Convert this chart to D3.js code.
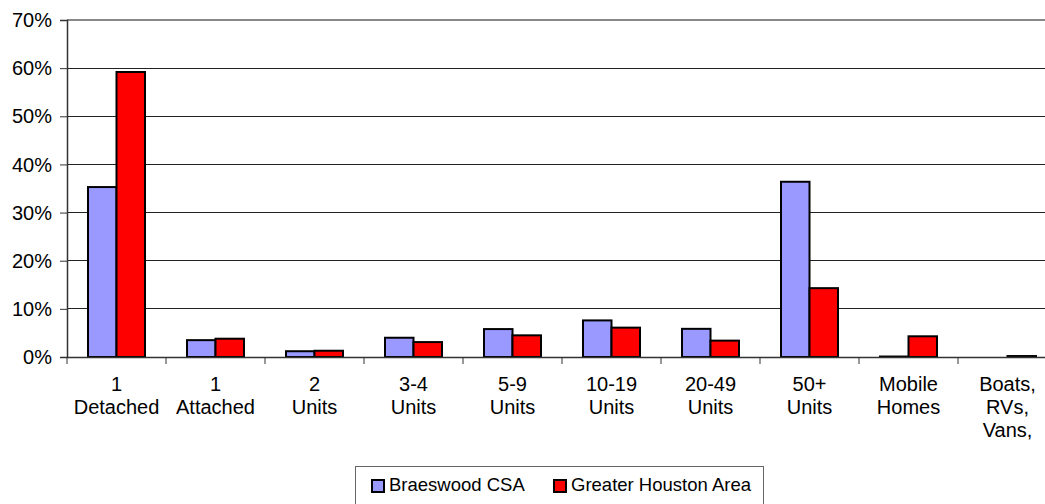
<!DOCTYPE html>
<html>
<head>
<meta charset="utf-8">
<script src="https://cdn.jsdelivr.net/npm/d3@7"></script>
<style>
html,body{margin:0;padding:0;background:#fff;overflow:hidden;}
svg{display:block;font-family:"Liberation Sans",Arial,sans-serif;}
</style>
</head>
<body>
<svg id="chart" width="1045" height="504"></svg>
<script>
const categories = ["1 Detached","1 Attached","2 Units","3-4 Units","5-9 Units","10-19 Units","20-49 Units","50+ Units","Mobile Homes","Boats, RVs, Vans,"];
const categoryLines = [["1","Detached"],["1","Attached"],["2","Units"],["3-4","Units"],["5-9","Units"],["10-19","Units"],["20-49","Units"],["50+","Units"],["Mobile","Homes"],["Boats,","RVs,","Vans,"]];
const seriesNames = ["Braeswood CSA","Greater Houston Area"];
const braeswood = [35.3, 3.5, 1.2, 4.0, 5.8, 7.6, 5.85, 36.4, 0.1, 0];
const houston   = [59.2, 3.8, 1.3, 3.1, 4.5, 6.1, 3.4, 14.3, 4.3, 0.2];
const yTicks = [0,10,20,30,40,50,60,70];
const colors = ["#9999FF","#FF0000"];

(function(){
const svg = d3.select("#chart");
const pL = 67, pR = 1057, pT = 20, pB = 357;

const x0 = d3.scaleBand().domain(categories).range([pL, pR]).padding(0);
const x1 = d3.scaleBand().domain(seriesNames).range([0, x0.bandwidth()]).paddingInner(0).paddingOuter(0.737);
const y = d3.scaleLinear().domain([0,70]).range([pB, pT]);

// gridlines
svg.append("g").selectAll("line").data(yTicks.filter(t => t > 0)).join("line")
  .attr("x1", pL).attr("x2", 1045)
  .attr("y1", d => y(d)).attr("y2", d => y(d))
  .attr("stroke", d => d === 70 ? "#888" : "#222")
  .attr("stroke-width", d => d === 70 ? 2 : 1)
  .attr("shape-rendering","crispEdges");

// y axis
const yAxis = d3.axisLeft(y).tickValues(yTicks).tickFormat(d => d + "%").tickSize(7).tickPadding(8);
const gy = svg.append("g").attr("transform", `translate(${pL},0)`).call(yAxis);
gy.select(".domain").attr("stroke","#333").attr("stroke-width",1.5);
gy.selectAll(".tick line").attr("stroke","#333");
gy.selectAll(".tick text").attr("font-size","20px").attr("fill","#000").attr("font-family","Liberation Sans, Arial, sans-serif").attr("dy","0.33em");

// bars
const data = categories.map((c,i) => ({cat:c, vals:[braeswood[i], houston[i]]}));
const groups = svg.append("g").selectAll("g").data(data).join("g")
  .attr("transform", d => `translate(${x0(d.cat)},0)`);
groups.selectAll("rect").data(d => d.vals.map((v,j) => ({name:seriesNames[j], v, j}))).join("rect")
  .attr("x", d => x1(d.name))
  .attr("width", x1.bandwidth())
  .attr("y", d => y(d.v))
  .attr("height", d => y(0) - y(d.v))
  .attr("fill", d => colors[d.j])
  .attr("stroke", "#000")
  .attr("stroke-width", 2);

// x axis
const xAxis = d3.axisBottom(x0).tickSize(0).tickFormat("");
const gx = svg.append("g").attr("transform", `translate(0,${pB})`).call(xAxis);
gx.select(".domain").attr("stroke","#333").attr("stroke-width",1.5);
const bounds = d3.range(categories.length + 1).map(i => pL + i * x0.step());
gx.selectAll("line.bt").data(bounds).join("line").attr("class","bt")
  .attr("x1", d => d).attr("x2", d => d).attr("y1", 0).attr("y2", 7)
  .attr("stroke","#333").attr("stroke-width",1);

// category labels
const lab = svg.append("g").selectAll("text").data(categories).join("text")
  .attr("x", d => x0(d) + x0.bandwidth()/2)
  .attr("y", 390.5)
  .attr("text-anchor","middle")
  .attr("font-size","20px")
  .attr("fill","#000");
lab.each(function(d,i){
  const t = d3.select(this);
  categoryLines[i].forEach((ln,k) => {
    t.append("tspan").attr("x", x0(d) + x0.bandwidth()/2).attr("dy", k === 0 ? 0 : 23).text(ln);
  });
});

// legend
const lg = svg.append("g");
lg.append("rect").attr("x",355.5).attr("y",466.5).attr("width",408).attr("height",60)
  .attr("fill","#fff").attr("stroke","#666").attr("stroke-width",1);
const legX = [371, 553];
seriesNames.forEach((n,j) => {
  lg.append("rect").attr("x",legX[j]+1).attr("y",480).attr("width",12).attr("height",12)
    .attr("fill",colors[j]).attr("stroke","#000").attr("stroke-width",2);
  lg.append("text").attr("x",legX[j]+18).attr("y",491).attr("font-size","18.5px").attr("fill","#000").text(n);
});
})();
</script>
</body>
</html>
